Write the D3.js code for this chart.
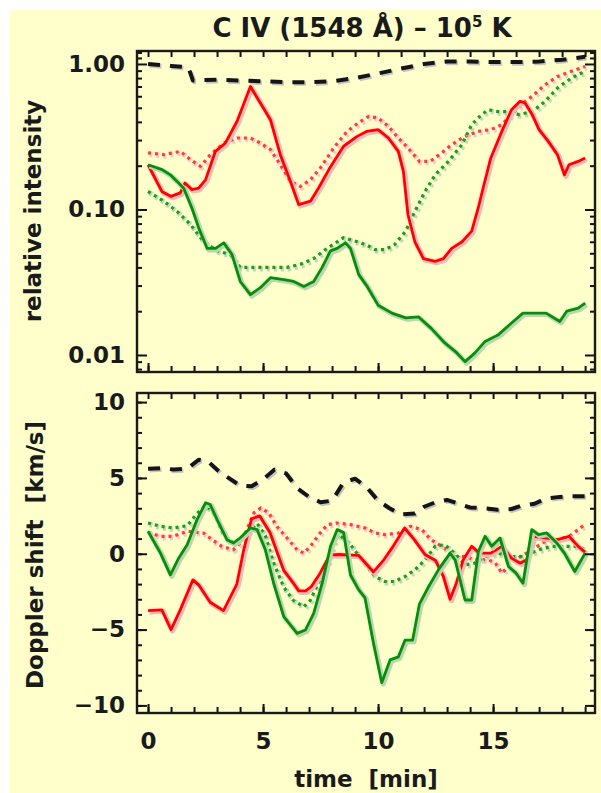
<!DOCTYPE html>
<html><head><meta charset="utf-8">
<script src="https://cdn.jsdelivr.net/npm/d3@7"></script>
<style>
body{margin:0;background:#fff;} svg{display:block;}
text{font-family:"DejaVu Sans",sans-serif;font-weight:bold;fill:#1a1a1a;}
</style>
</head><body><svg id="c" width="601" height="793"></svg>
<script>
// ---------- DATA (time [min], value) ----------
const xTickLabels = [0, 5, 10, 15];
const topTickLabels = [0.01, 0.1, 1];
const botTickLabels = [-10, -5, 0, 5, 10];

// Top panel: relative intensity (log)
const blackDashTop = [[0,1.00],[1,0.97],[1.75,0.95],[1.95,0.77],[3,0.78],[4,0.77],[5,0.76],[6,0.75],[7,0.75],[8,0.76],[9,0.80],[10,0.86],[11,0.93],[12,1.00],[13,1.04],[14,1.04],[15,1.03],[16,1.03],[17,1.04],[18,1.07],[19,1.12]];
const redSolidTop = [[0,0.203],[0.6,0.133],[1.0,0.123],[1.4,0.13],[1.6,0.152],[1.9,0.137],[2.2,0.14],[2.5,0.16],[2.93,0.251],[3.36,0.286],[3.87,0.404],[4.45,0.70],[5.1,0.473],[5.32,0.414],[5.75,0.238],[6.19,0.156],[6.55,0.108],[7.06,0.114],[7.42,0.141],[7.86,0.188],[8.5,0.272],[9.09,0.318],[9.5,0.344],[10.0,0.354],[10.45,0.310],[10.88,0.251],[11.1,0.183],[11.3,0.092],[11.6,0.060],[11.97,0.046],[12.48,0.044],[12.84,0.046],[13.2,0.054],[13.65,0.060],[14.07,0.071],[14.35,0.102],[14.57,0.141],[14.9,0.226],[15.38,0.344],[15.8,0.485],[16.17,0.554],[16.39,0.54],[16.7,0.449],[17.0,0.354],[17.4,0.294],[17.8,0.238],[18.1,0.173],[18.3,0.203],[18.7,0.214],[19.0,0.226]];
const redDotTop = [[0,0.245],[0.68,0.238],[1.41,0.251],[1.84,0.22],[2.28,0.198],[2.71,0.238],[3.29,0.286],[3.87,0.31],[4.45,0.31],[4.88,0.286],[5.32,0.258],[5.75,0.203],[6.19,0.156],[6.62,0.144],[7.06,0.16],[7.49,0.193],[8.07,0.265],[8.65,0.344],[9.2,0.40],[9.6,0.437],[10,0.425],[10.45,0.373],[10.88,0.31],[11.3,0.265],[11.8,0.214],[12.26,0.214],[12.77,0.245],[13.2,0.279],[13.77,0.318],[14.35,0.344],[14.9,0.354],[15.38,0.383],[15.8,0.449],[16.2,0.525],[16.7,0.6],[17.26,0.72],[17.8,0.82],[18.4,0.89],[19,0.96]];
const greenSolidTop = [[0,0.203],[0.61,0.188],[0.97,0.173],[1.26,0.156],[1.55,0.14],[1.91,0.102],[2.2,0.075],[2.57,0.054],[2.93,0.054],[3.29,0.059],[3.65,0.049],[4.01,0.032],[4.45,0.026],[4.88,0.029],[5.32,0.034],[5.9,0.033],[6.33,0.032],[6.77,0.0296],[7.2,0.032],[7.57,0.040],[7.93,0.052],[8.22,0.054],[8.58,0.059],[8.8,0.054],[9.16,0.0357],[9.5,0.030],[10.0,0.022],[10.6,0.0194],[11.2,0.018],[11.75,0.0183],[12.3,0.0153],[12.9,0.0121],[13.35,0.0106],[13.78,0.009],[14.2,0.0103],[14.65,0.0124],[15.23,0.0138],[15.8,0.0166],[16.3,0.0194],[16.8,0.0194],[17.3,0.0194],[17.9,0.017],[18.2,0.020],[18.7,0.021],[19.0,0.0227]];
const greenDotTop = [[0,0.133],[0.68,0.114],[1.26,0.097],[1.84,0.079],[2.42,0.060],[3,0.052],[3.58,0.049],[4.01,0.040],[4.6,0.040],[5.32,0.040],[6.04,0.040],[6.62,0.042],[7.2,0.046],[7.78,0.054],[8.5,0.064],[9.09,0.060],[9.5,0.057],[9.87,0.053],[10.3,0.053],[10.7,0.057],[11.2,0.071],[11.6,0.097],[12.04,0.133],[12.48,0.173],[13.06,0.214],[13.64,0.279],[14.07,0.383],[14.5,0.449],[14.8,0.485],[15.23,0.47],[15.67,0.47],[16.1,0.449],[16.7,0.47],[17.26,0.554],[17.8,0.684],[18.4,0.80],[19,0.89]];

// Bottom panel: Doppler shift [km/s]
const blackDashBot = [[0,5.6],[0.6,5.65],[1.1,5.55],[1.7,5.6],[2.2,6.2],[2.6,6.1],[3.1,5.4],[3.6,4.9],[4,4.5],[4.5,4.45],[5,4.9],[5.5,5.55],[6,5.3],[6.5,4.3],[7,3.75],[7.5,3.4],[8,3.5],[8.5,4.7],[9,4.95],[9.5,4.4],[10,3.5],[10.5,3.0],[11,2.6],[11.6,2.65],[12,3.1],[12.5,3.4],[13,3.55],[13.5,3.3],[14,3.05],[14.6,3.0],[15.2,2.9],[15.8,2.95],[16.2,3.15],[16.8,3.3],[17.3,3.65],[17.9,3.75],[18.4,3.8],[19,3.8]];
const redSolidBot = [[0,-3.75],[0.6,-3.7],[1.0,-5.0],[1.4,-3.7],[1.95,-1.72],[2.2,-2.05],[2.7,-3.2],[3.28,-3.75],[3.86,-2.0],[4.16,0.26],[4.5,2.3],[4.85,2.5],[5.3,1.4],[5.9,-1.1],[6.3,-1.9],[6.55,-2.45],[6.85,-2.45],[7.1,-2.16],[7.48,-1.28],[7.9,-0.07],[8.3,-0.05],[9.15,-0.1],[9.8,-1.2],[10.25,-0.4],[10.6,0.37],[11.15,1.7],[11.55,0.98],[12.04,-0.05],[12.5,-0.45],[12.84,-1.5],[13.13,-3.0],[13.4,-1.94],[13.7,-0.4],[14.07,0.49],[14.4,0.04],[14.9,0.04],[15.38,0.49],[15.8,-0.29],[16.17,-0.62],[16.46,-0.4],[16.75,1.15],[17.26,1.04],[17.8,0.93],[18.3,1.15],[18.7,0.49],[19.0,0.1]];
const redDotBot = [[0,1.4],[0.54,1.15],[1.1,1.15],[1.7,1.48],[2.4,1.37],[2.78,0.93],[3.2,0.49],[3.7,0.26],[4.0,0.71],[4.3,1.59],[4.6,2.7],[4.9,3.02],[5.25,2.7],[5.6,1.8],[6.04,1.04],[6.48,0.26],[6.77,0.04],[7.06,0.49],[7.42,1.26],[7.8,1.92],[8.2,2.03],[8.8,1.92],[9.43,1.7],[9.87,1.37],[10.3,1.26],[10.9,1.37],[11.4,1.81],[11.9,1.59],[12.3,0.93],[12.77,0.49],[13.35,-0.18],[13.8,-0.18],[14.2,-0.4],[14.8,-0.4],[15.1,-0.6],[15.38,-1.28],[15.8,-0.62],[16.2,-0.18],[16.7,0.26],[17.26,0.82],[17.8,0.93],[18.3,1.15],[18.7,1.59],[19.0,1.95]];
const greenSolidBot = [[0,1.48],[0.54,0.04],[0.97,-1.39],[1.33,-0.29],[1.7,0.6],[2.13,2.25],[2.5,3.36],[2.7,3.25],[3.07,2.03],[3.43,0.93],[3.72,0.71],[4.0,1.04],[4.45,1.7],[4.74,1.59],[5.1,0.26],[5.46,-1.94],[5.9,-4.15],[6.48,-5.25],[6.84,-5.03],[7.2,-3.93],[7.57,-1.94],[7.93,0.49],[8.22,1.59],[8.5,1.4],[8.8,-1.4],[9.16,-2.38],[9.43,-2.9],[9.8,-5.9],[10.16,-8.5],[10.52,-7.0],[10.88,-6.8],[11.17,-5.7],[11.5,-5.7],[11.8,-3.3],[12.2,-2.16],[12.62,-1.06],[13.13,0.04],[13.35,-0.4],[13.78,-3.05],[14.07,-3.05],[14.36,0.15],[14.65,1.15],[14.94,0.49],[15.3,1.04],[15.67,-0.84],[16.0,-1.28],[16.3,-1.94],[16.68,1.59],[16.97,1.26],[17.33,1.37],[17.77,0.71],[18.1,0.04],[18.55,-1.17],[19.0,0.04]];
const greenDotBot = [[0,2.03],[0.54,1.81],[1.1,1.7],[1.7,1.85],[2.1,2.6],[2.5,3.2],[2.9,2.6],[3.3,1.2],[3.72,0.71],[4.2,1.2],[4.74,2.0],[5.1,1.2],[5.46,-0.6],[5.9,-2.2],[6.3,-3.05],[6.77,-3.5],[7.06,-3.05],[7.4,-1.94],[7.8,-0.62],[8.07,0.71],[8.3,1.3],[8.8,0.6],[9.3,-0.4],[9.87,-1.5],[10.3,-1.83],[10.7,-1.83],[11.17,-1.5],[11.6,-1.06],[12.04,-0.4],[12.48,0.49],[12.9,0.6],[13.35,0.0],[13.78,-0.73],[14.2,-0.62],[14.65,-0.18],[15.2,0.04],[15.8,-0.18],[16.3,-0.18],[16.97,0.26],[17.55,0.49],[18.1,0.49],[18.7,0.49],[19.0,0.26]];

// ---------- LAYOUT ----------
const svg = d3.select("#c");
svg.append("rect").attr("x",10).attr("y",10).attr("width",591).attr("height",783).attr("fill","#ffffcc");

const L = 137, R = 595;
const x = d3.scaleLinear().domain([-0.48, 19.43]).range([L, R]);
const yTop = d3.scaleLog().domain([0.00764, 1.228]).range([372, 51]);
const yBot = d3.scaleLinear().domain([-10.5, 10.6]).range([713, 393]);

const styles = {
  blackDash: {c:"#151515", sh:"#c4c4c4", w:4, shw:4.4, dash:"12,10"},
  redDot:    {c:"#ff3c3c", sh:"#ffc4c4", w:3.2, shw:5.4, dash:"3,4"},
  greenDot:  {c:"#1f9a1f", sh:"#b6dfb2", w:3.2, shw:5.4, dash:"3,4"},
  redSolid:  {c:"#ff0000", sh:"#ffb4b4", w:2.8, shw:5, dash:null},
  greenSolid:{c:"#0a8c0a", sh:"#b0dcac", w:2.8, shw:5, dash:null}
};

function panel(id, y, top, bottom, majorY, minorY, fmt, showX, series) {
  const g = svg.append("g");
  svg.append("clipPath").attr("id", id).append("rect")
    .attr("x", L).attr("y", top).attr("width", R - L).attr("height", bottom - top);
  const data = g.append("g").attr("clip-path", `url(#${id})`);
  const line = d3.line().x(d => x(d[0])).y(d => y(d[1]));
  series.forEach(([arr, st]) => {
    data.append("path").datum(arr).attr("d", line).attr("fill","none")
      .attr("stroke", st.sh).attr("stroke-width", st.shw)
      .attr("stroke-dasharray", st.dash).attr("stroke-linejoin","round")
      .attr("transform","translate(1.5,1.5)");
    data.append("path").datum(arr).attr("d", line).attr("fill","none")
      .attr("stroke", st.c).attr("stroke-width", st.w)
      .attr("stroke-dasharray", st.dash).attr("stroke-linejoin","round");
  });

  const tickStyle = sel => { sel.select(".domain").remove();
    sel.selectAll(".tick line").attr("stroke","#111").attr("stroke-width",2);
    sel.selectAll(".tick text").style("font-size","23px").attr("fill","#1a1a1a"); };

  g.append("g").attr("transform",`translate(${L},0)`)
    .call(d3.axisLeft(y).tickValues(minorY).tickSize(-5).tickFormat("")).call(tickStyle);
  g.append("g").attr("transform",`translate(${L},0)`)
    .call(d3.axisLeft(y).tickValues(majorY).tickSizeInner(-10).tickSizeOuter(0).tickPadding(12).tickFormat(fmt)).call(tickStyle);
  g.append("g").attr("transform",`translate(${R},0)`)
    .call(d3.axisRight(y).tickValues(minorY).tickSize(-5).tickFormat("")).call(tickStyle);
  g.append("g").attr("transform",`translate(${R},0)`)
    .call(d3.axisRight(y).tickValues(majorY).tickSize(-10).tickFormat("")).call(tickStyle);
  const xMinor = d3.range(0, 20);
  g.append("g").attr("transform",`translate(0,${top})`)
    .call(d3.axisTop(x).tickValues(xMinor).tickSize(-6).tickFormat("")).call(tickStyle);
  g.append("g").attr("transform",`translate(0,${bottom})`)
    .call(d3.axisBottom(x).tickValues(xMinor).tickSize(-6).tickFormat("")).call(tickStyle);
  g.append("g").attr("transform",`translate(0,${bottom})`)
    .call(d3.axisBottom(x).tickValues(xTickLabels).tickSizeInner(-9).tickSizeOuter(0)
      .tickPadding(showX ? 20 : 0).tickFormat(showX ? d3.format("d") : "")).call(tickStyle);

  g.append("rect").attr("x", L).attr("y", top).attr("width", R - L).attr("height", bottom - top)
    .attr("fill","none").attr("stroke","#1a1a1a").attr("stroke-width",2.4);
}

const minorTop = [];
[0.001, 0.01, 0.1, 1].forEach(d => { for (let k = 2; k <= 9; k++) { const v = d * k; if (v > 0.00764 && v < 1.228) minorTop.push(v); } });
minorTop.push(1.1, 1.2);

panel("clipTop", yTop, 51, 372, topTickLabels, minorTop, d3.format(".2f"), false, [
  [blackDashTop, styles.blackDash],
  [redDotTop, styles.redDot],
  [greenDotTop, styles.greenDot],
  [redSolidTop, styles.redSolid],
  [greenSolidTop, styles.greenSolid]
]);
panel("clipBot", yBot, 393, 713, botTickLabels, d3.range(-10, 11), d3.format("d"), true, [
  [blackDashBot, styles.blackDash],
  [redDotBot, styles.redDot],
  [greenDotBot, styles.greenDot],
  [redSolidBot, styles.redSolid],
  [greenSolidBot, styles.greenSolid]
]);

// ---------- TITLES ----------
const title = svg.append("text").attr("x", 362).attr("y", 37).attr("text-anchor","middle")
  .style("font-size","26px");
title.append("tspan").text("C IV (1548 Å) \u2013 10");
title.append("tspan").attr("dy", -10).style("font-size","15px").text("5");
title.append("tspan").attr("dy", 10).text(" K");

svg.append("text").attr("transform","translate(41,211) rotate(-90)").attr("text-anchor","middle")
  .style("font-size","23px").text("relative intensity");
svg.append("text").attr("transform","translate(43,555) rotate(-90)").attr("text-anchor","middle")
  .style("font-size","23px").text("Doppler shift\u00a0\u00a0[km/s]");
svg.append("text").attr("x", 366).attr("y", 787).attr("text-anchor","middle")
  .style("font-size","23px").text("time\u00a0\u00a0[min]");
</script></body></html>
